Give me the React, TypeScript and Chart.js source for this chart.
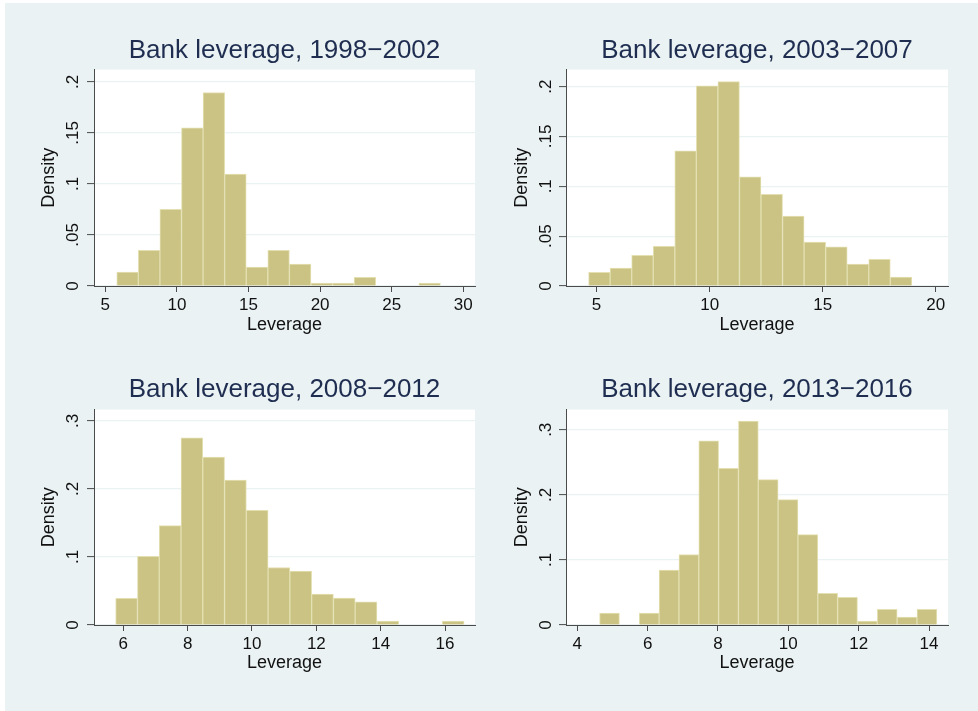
import React, { useEffect, useRef } from 'react';
import { Chart, registerables } from 'chart.js';

Chart.register(...registerables);

// ---------- data ----------
const TITLES = [
  'Bank leverage, 1998\u22122002',
  'Bank leverage, 2003\u22122007',
  'Bank leverage, 2008\u22122012',
  'Bank leverage, 2013\u22122016',
];
const X_TITLE = 'Leverage';
const Y_TITLE = 'Density';

// 1998-2002
const P1_BIN_START = 5.8;
const P1_BIN_WIDTH = 1.507;
const P1_DENSITY = [0.0137, 0.0349, 0.075, 0.155, 0.1896, 0.1096, 0.0186, 0.0349, 0.0215, 0.0029, 0.0029, 0.0085, 0, 0, 0.0029];
const P1_X_TICKS = [5, 10, 15, 20, 25, 30];
const P1_Y_TICKS = [0, 0.05, 0.1, 0.15, 0.2];
const P1_Y_LABELS = ['0', '.05', '.1', '.15', '.2'];

// 2003-2007
const P2_BIN_START = 4.646;
const P2_BIN_WIDTH = 0.953;
const P2_DENSITY = [0.0137, 0.018, 0.0307, 0.0397, 0.1356, 0.2007, 0.205, 0.1095, 0.0918, 0.0701, 0.0441, 0.0394, 0.022, 0.0267, 0.009];
const P2_X_TICKS = [5, 10, 15, 20];
const P2_Y_TICKS = [0, 0.05, 0.1, 0.15, 0.2];
const P2_Y_LABELS = ['0', '.05', '.1', '.15', '.2'];

// 2008-2012
const P3_BIN_START = 5.764;
const P3_BIN_WIDTH = 0.6766;
const P3_DENSITY = [0.0391, 0.1011, 0.1461, 0.2751, 0.2467, 0.213, 0.1686, 0.0845, 0.0792, 0.0454, 0.0396, 0.0342, 0.0059, 0, 0, 0.0059];
const P3_X_TICKS = [6, 8, 10, 12, 14, 16];
const P3_Y_TICKS = [0, 0.1, 0.2, 0.3];
const P3_Y_LABELS = ['0', '.1', '.2', '.3'];

// 2013-2016
const P4_BIN_START = 4.634;
const P4_BIN_WIDTH = 0.564;
const P4_DENSITY = [0.0184, 0, 0.0184, 0.0843, 0.1083, 0.2831, 0.2407, 0.3133, 0.2233, 0.1927, 0.139, 0.0486, 0.0424, 0.0061, 0.024, 0.0123, 0.024];
const P4_X_TICKS = [4, 6, 8, 10, 12, 14];
const P4_Y_TICKS = [0, 0.1, 0.2, 0.3];
const P4_Y_LABELS = ['0', '.1', '.2', '.3'];

// ---------- styles ----------
const FONT = '"Liberation Sans", Arial, Helvetica, sans-serif';
const PAGE_BG = '#ffffff';
const GRAPH_BG = '#EAF2F3';
const BAR_FILL = 'rgb(202,195,131)';
const BAR_EDGE = 'rgb(228,224,178)';
const AXIS = '#4a4a4a';
const TEXT = '#111111';
const TITLE_COLOR = '#1e2d50';

type Panel = {
  title: string;
  start: number;
  width: number;
  density: number[];
  xTicks: number[];
  yTicks: number[];
  yLabels: string[];
  xMin: number;
  xMax: number;
  yMax: number;
  left: number;
  top: number;
  w: number;
  h: number;
  axisW: number;
  padRight: number;
  titleTop: number;
  titleBottom: number;
  xAxisH: number;
  xTitlePad: number;
  yTitlePad: number;
  yLabelGap: number;
};

const PANELS: Panel[] = [
  {
    title: TITLES[0], start: P1_BIN_START, width: P1_BIN_WIDTH, density: P1_DENSITY,
    xTicks: P1_X_TICKS, yTicks: P1_Y_TICKS, yLabels: P1_Y_LABELS,
    xMin: 4.21, xMax: 30.82, yMax: 0.212,
    left: 0, top: 0, w: 489, h: 355, axisW: 94, padRight: 14,
    titleTop: 34.8, titleBottom: 3.6, xAxisH: 69, xTitlePad: 19.4, yTitlePad: 38.7, yLabelGap: 16,
  },
  {
    title: TITLES[1], start: P2_BIN_START, width: P2_BIN_WIDTH, density: P2_DENSITY,
    xTicks: P2_X_TICKS, yTicks: P2_Y_TICKS, yLabels: P2_Y_LABELS,
    xMin: 3.647, xMax: 20.54, yMax: 0.217,
    left: 489, top: 0, w: 489, h: 355, axisW: 77, padRight: 30,
    titleTop: 34.8, titleBottom: 3.6, xAxisH: 69, xTitlePad: 19.4, yTitlePad: 22.4, yLabelGap: 15.5,
  },
  {
    title: TITLES[2], start: P3_BIN_START, width: P3_BIN_WIDTH, density: P3_DENSITY,
    xTicks: P3_X_TICKS, yTicks: P3_Y_TICKS, yLabels: P3_Y_LABELS,
    xMin: 5.09, xMax: 16.93, yMax: 0.3166,
    left: 0, top: 355, w: 489, h: 356, axisW: 94, padRight: 14,
    titleTop: 19.1, titleBottom: 4.3, xAxisH: 86, xTitlePad: 37.1, yTitlePad: 38.7, yLabelGap: 16,
  },
  {
    title: TITLES[3], start: P4_BIN_START, width: P4_BIN_WIDTH, density: P4_DENSITY,
    xTicks: P4_X_TICKS, yTicks: P4_Y_TICKS, yLabels: P4_Y_LABELS,
    xMin: 3.679, xMax: 14.54, yMax: 0.331,
    left: 489, top: 355, w: 489, h: 356, axisW: 77, padRight: 30,
    titleTop: 19.1, titleBottom: 4.3, xAxisH: 86, xTitlePad: 37.1, yTitlePad: 22.4, yLabelGap: 15.5,
  },
];

const plotBgPlugin = {
  id: 'plotBg',
  beforeDraw(chart: any) {
    const { ctx, chartArea } = chart;
    ctx.save();
    ctx.fillStyle = '#ffffff';
    ctx.fillRect(chartArea.left, chartArea.top, chartArea.right - chartArea.left, chartArea.bottom - chartArea.top);
    ctx.restore();
  },
};

const yLabelPlugin = {
  id: 'yLabels',
  afterDraw(chart: any, _args: any, opts: any) {
    const { ctx, chartArea } = chart;
    const ys = chart.scales.y;
    ctx.save();
    ctx.font = `17px ${FONT}`;
    ctx.fillStyle = TEXT;
    ctx.textAlign = 'center';
    ctx.textBaseline = 'alphabetic';
    (opts.values as number[]).forEach((v, i) => {
      const y = ys.getPixelForValue(v);
      ctx.save();
      ctx.translate(chartArea.left - opts.gap, y);
      ctx.rotate(-Math.PI / 2);
      ctx.fillText(opts.labels[i], 0, 0);
      ctx.restore();
    });
    ctx.restore();
  },
};

function HistPanel({ p }: { p: Panel }) {
  const ref = useRef<HTMLCanvasElement | null>(null);
  useEffect(() => {
    if (!ref.current) return;
    const data = p.density.map((d, i) => ({ x: p.start + p.width * (i + 0.5), y: d }));
    const chart = new Chart(ref.current, {
      type: 'bar',
      data: {
        datasets: [
          {
            data: data as any,
            backgroundColor: BAR_FILL,
            borderColor: BAR_EDGE,
            borderWidth: 1,
            borderSkipped: 'start',
            barPercentage: 1,
            categoryPercentage: 1,
          } as any,
        ],
      },
      options: {
        responsive: false,
        animation: false,
        devicePixelRatio: 1,
        layout: { padding: { left: 0, right: p.padRight, top: 0, bottom: 0 } },
        plugins: {
          legend: { display: false },
          tooltip: { enabled: false },
          title: {
            display: true,
            text: p.title,
            fullSize: false,
            color: TITLE_COLOR,
            font: { family: FONT, size: 26, weight: 'normal', lineHeight: 1.2 },
            padding: { top: p.titleTop, bottom: p.titleBottom },
          },
          yLabels: { values: p.yTicks, labels: p.yLabels, gap: p.yLabelGap },
        } as any,
        scales: {
          x: {
            type: 'linear',
            offset: false,
            min: p.xMin,
            max: p.xMax,
            afterBuildTicks: (s: any) => {
              s.ticks = p.xTicks.map((v) => ({ value: v }));
            },
            afterFit: (s: any) => {
              s.height = p.xAxisH;
            },
            ticks: {
              autoSkip: false,
              maxRotation: 0,
              minRotation: 0,
              padding: 3,
              color: TEXT,
              font: { family: FONT, size: 17 },
              callback: (v: any) => String(v),
            },
            grid: {
              display: true,
              offset: false,
              drawOnChartArea: false,
              drawTicks: true,
              tickLength: 6,
              tickColor: AXIS,
              tickWidth: 1,
            },
            border: { display: true, color: AXIS, width: 1 },
            title: {
              display: true,
              text: X_TITLE,
              color: TEXT,
              font: { family: FONT, size: 18 },
              padding: { top: 0, bottom: p.xTitlePad },
            },
          },
          y: {
            type: 'linear',
            min: 0,
            max: p.yMax,
            afterBuildTicks: (s: any) => {
              s.ticks = p.yTicks.map((v) => ({ value: v }));
            },
            afterFit: (s: any) => {
              s.width = p.axisW;
            },
            ticks: { display: false },
            grid: {
              display: true,
              drawOnChartArea: true,
              drawTicks: true,
              tickLength: 7,
              color: GRAPH_BG,
              lineWidth: 1.2,
              tickColor: AXIS,
              tickWidth: 1,
            },
            border: { display: true, color: AXIS, width: 1 },
            title: {
              display: true,
              text: Y_TITLE,
              color: TEXT,
              font: { family: FONT, size: 18 },
              padding: { top: p.yTitlePad, bottom: 0 },
            },
          },
        },
      } as any,
      plugins: [plotBgPlugin, yLabelPlugin] as any,
    });
    return () => chart.destroy();
  }, [p]);
  return (
    <canvas
      ref={ref}
      width={p.w}
      height={p.h}
      style={{ position: 'absolute', left: p.left, top: p.top, width: p.w, height: p.h }}
    />
  );
}

export default function App() {
  return (
    <div style={{ position: 'absolute', left: 0, top: 0, width: 978, height: 711, background: PAGE_BG, overflow: 'hidden' }}>
      <div style={{ position: 'absolute', left: 5, top: 3, width: 973, height: 708, background: GRAPH_BG }} />
      {PANELS.map((p, i) => (
        <HistPanel key={i} p={p} />
      ))}
    </div>
  );
}
